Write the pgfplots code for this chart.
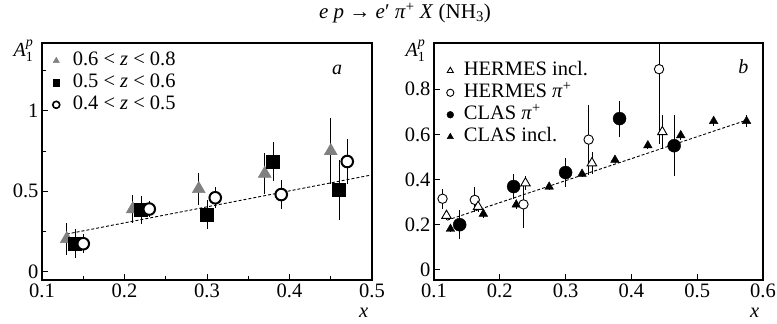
\documentclass[border=0pt]{standalone}
\usepackage{fontspec}
\setmainfont{Liberation Serif}
\usepackage{amsmath}
\usepackage{pgfplots}
\pgfplotsset{compat=1.18}
\usepackage{pgfplotstable}

% Panel a
\pgfplotstableread{
x y e
0.13 0.205 0.10
0.21 0.39 0.085
0.29 0.515 0.10
0.37 0.61 0.125
0.45 0.75 0.205
}\ltri
\pgfplotstableread{
x y e
0.14 0.175 0.09
0.22 0.385 0.085
0.30 0.355 0.09
0.38 0.685 0.12
0.46 0.51 0.185
}\lsq
\pgfplotstableread{
x y e
0.15 0.175 0.06
0.23 0.39 0.05
0.31 0.46 0.065
0.39 0.48 0.09
0.47 0.685 0.14
}\lcirc
% Panel b
\pgfplotstableread{
x y e
0.119 0.24 0.02
0.167 0.28 0.025
0.239 0.384 0.03
0.34 0.473 0.05
0.447 0.611 0.075
}\hinc
\pgfplotstableread{
x y e
0.113 0.315 0.045
0.162 0.31 0.055
0.236 0.29 0.105
0.335 0.577 0.155
0.442 0.889 0.33
}\hpi
\pgfplotstableread{
x y e
0.139 0.20 0.063
0.221 0.369 0.055
0.300 0.431 0.065
0.382 0.67 0.08
0.465 0.55 0.135
}\cpi
\pgfplotstableread{
x y e
0.125 0.181 0.015
0.175 0.248 0.02
0.225 0.289 0.02
0.275 0.368 0.015
0.325 0.425 0.015
0.375 0.487 0.015
0.425 0.551 0.015
0.475 0.596 0.02
0.525 0.659 0.02
0.575 0.659 0.025
}\cinc

\newcommand{\fs}{\fontsize{20.5}{23}\selectfont}
\newcommand{\fl}{\fontsize{20.5}{23}\selectfont}

\begin{document}
\begin{tikzpicture}
\path[use as bounding box] (-42pt,-44pt) rectangle (735pt,280pt);
\pgfplotsset{
  myax/.style={
    scale only axis, height=237pt,
    axis line style={line width=1.1pt},
    tick align=inside, xtick pos=bottom, ytick pos=left,
    major tick length=6pt, minor tick length=4pt,
    every tick/.style={black, line width=0.9pt},
    tick label style={font=\fs},
    /pgf/number format/assume math mode=true,
    xlabel={\textit{x}},
    every axis x label/.style={at={(axis description cs:0.975,0)}, anchor=center, yshift=-33pt, font=\fl},
    ylabel={\textit{A}$^{\text{\itshape p}}_{\text{1}}$},
    every axis y label/.style={at={(axis description cs:0,1)}, anchor=north east, xshift=-5pt, yshift=7pt, font=\fontsize{20}{23}\selectfont},
    legend cell align=left,
    legend style={draw=none, fill=none, font=\fl, inner sep=0pt, row sep=1pt,
      nodes={inner sep=1pt, text height=14.5pt, text depth=4.5pt}},
    eb/.style={error bars/.cd, y dir=both, y explicit, error mark=none,
      error bar style={black, line width=0.8pt}},
  }
}
% ---------------- panel a
\begin{axis}[myax, at={(0pt,0pt)}, anchor=south west, width=330pt,
  xmin=0.1, xmax=0.5, ymin=-0.05, ymax=1.42,
  xtick={0.1,0.2,0.3,0.4,0.5}, minor xtick={0.15,0.25,0.35,0.45},
  ytick={0,0.5,1}, minor ytick={0.25,0.75,1.25},
  legend style={at={(0.032,0.97)}, anchor=north west,
    /tikz/every odd column/.append style={column sep=12pt}}]
\addlegendimage{only marks, mark=triangle*, color=black!50, mark size=3.6pt}
\addlegendentry{0.6~<~\textit{z}~<~0.8}
\addlegendimage{only marks, mark=square*, color=black, mark size=3.4pt}
\addlegendentry{0.5~<~\textit{z}~<~0.6}
\addlegendimage{only marks, mark=o, color=black, mark size=3.5pt, line width=1.6pt}
\addlegendentry{0.4~<~\textit{z}~<~0.5}
\addplot[black, line width=0.9pt, dash pattern=on 3pt off 2pt, forget plot] coordinates {(0.13,0.235) (0.5,0.602)};
\addplot[only marks, mark=triangle*, color=black!50, mark size=7.5pt, forget plot, eb] table[x=x,y=y,y error=e]{\ltri};
\addplot[only marks, mark=square*, color=black, mark size=6.5pt, forget plot, eb] table[x=x,y=y,y error=e]{\lsq};
\addplot[only marks, mark=*, mark options={draw=black, fill=white, line width=2pt}, mark size=5.8pt, forget plot, eb] table[x=x,y=y,y error=e]{\lcirc};
\node[font=\fontsize{20}{22}\selectfont\itshape] at (rel axis cs:0.894,0.886) {a};
\end{axis}
% ---------------- panel b
\begin{axis}[myax, at={(392pt,0pt)}, anchor=south west, width=329pt,
  xmin=0.1, xmax=0.6, ymin=-0.045, ymax=1.005,
  xtick={0.1,0.2,0.3,0.4,0.5,0.6},
  ytick={0,0.2,0.4,0.6,0.8},
  legend style={at={(0.038,0.928)}, anchor=north west,
    /tikz/every odd column/.append style={column sep=9pt}}]
\addlegendimage{only marks, mark=triangle*, mark options={draw=black, fill=white, line width=0.9pt}, mark size=3.5pt}
\addlegendentry{HERMES incl.}
\addlegendimage{only marks, mark=*, mark options={draw=black, fill=white, line width=0.9pt}, mark size=3.6pt}
\addlegendentry{HERMES \textit{π}\textsuperscript{+}}
\addlegendimage{only marks, mark=*, color=black, mark size=3.4pt}
\addlegendentry{CLAS \textit{π}\textsuperscript{+}}
\addlegendimage{only marks, mark=triangle*, color=black, mark size=3.6pt}
\addlegendentry{CLAS incl.}
\addplot[black, line width=0.9pt, dash pattern=on 3pt off 2pt, forget plot] coordinates {(0.12,0.22) (0.577,0.665)};
\addplot[only marks, mark=triangle*, color=black, mark size=5pt, forget plot, eb] table[x=x,y=y,y error=e]{\cinc};
\addplot[only marks, mark=*, color=black, mark size=6.5pt, forget plot, eb] table[x=x,y=y,y error=e]{\cpi};
\addplot[only marks, mark=*, mark options={draw=black, fill=white, line width=0.9pt}, mark size=4.7pt, forget plot, eb] table[x=x,y=y,y error=e]{\hpi};
\addplot[only marks, mark=triangle*, mark options={draw=black, fill=white, line width=0.9pt}, mark size=5.5pt, forget plot, eb] table[x=x,y=y,y error=e]{\hinc};
\node[font=\fontsize{20}{22}\selectfont\itshape] at (rel axis cs:0.94,0.90) {b};
\end{axis}
\node[font=\fontsize{21}{24}\selectfont] at (363pt,267pt) {\textit{e p} → \textit{e}′ \textit{π}\textsuperscript{+} \textit{X} (NH\textsubscript{3})};
\end{tikzpicture}
\end{document}
